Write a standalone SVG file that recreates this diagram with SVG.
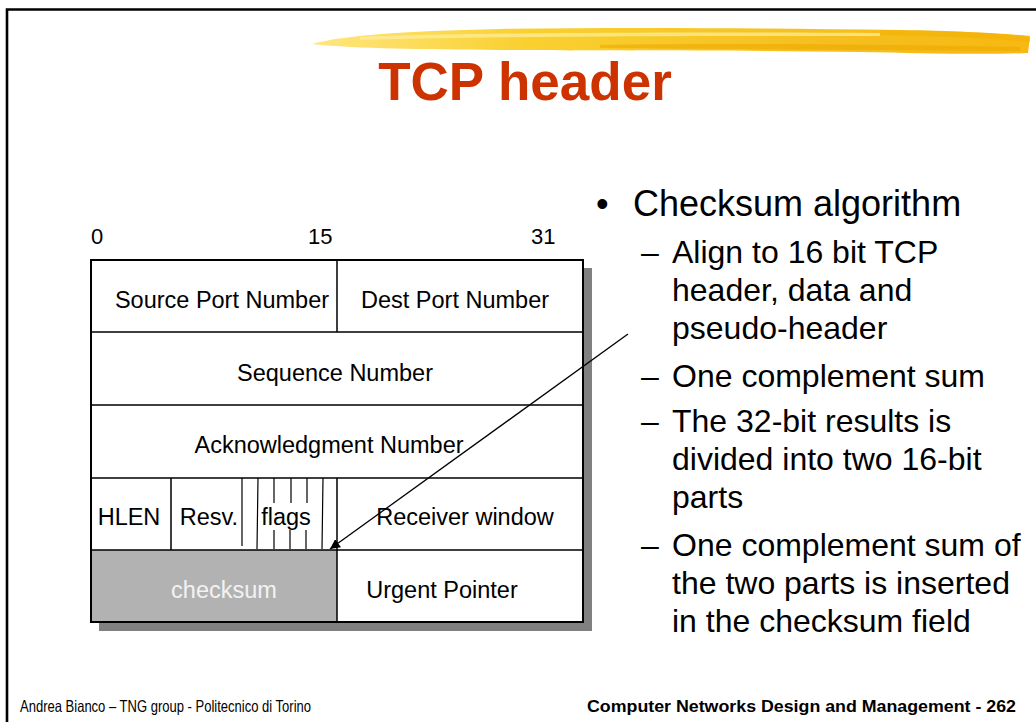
<svg xmlns="http://www.w3.org/2000/svg" width="1036" height="722" viewBox="0 0 1036 722">
<defs>
<style>
.t{font-family:"Liberation Sans",Arial,sans-serif;fill:#000}
.cell{font-size:23.5px;text-anchor:middle}
.bit{font-size:22px}
.b1{font-size:36px}
.b2{font-size:32px}
.ln{stroke:#000;stroke-width:1.5;fill:none}
.fl{stroke:#000;stroke-width:1.2;fill:none}
</style>
<linearGradient id="brush" x1="0" y1="0" x2="1" y2="0">
<stop offset="0" stop-color="#FFE680"/>
<stop offset="0.3" stop-color="#F9D030"/>
<stop offset="0.7" stop-color="#F5C020"/>
<stop offset="1" stop-color="#F7B812"/>
</linearGradient>
<marker id="ah" viewBox="0 0 10 10" refX="10" refY="5" markerWidth="10" markerHeight="10" markerUnits="userSpaceOnUse" orient="auto">
<path d="M0,0 L10,5 L0,10 z" fill="#000"/>
</marker>
</defs>
<rect x="0" y="0" width="1036" height="722" fill="#fff"/>
<g id="frame">
<path d="M7,722 V9.5 H1036" fill="none" stroke="#000" stroke-width="2.6"/>
</g>
<g id="brushstroke">
<path d="M312,44 C340,36 400,31 500,29 C620,27 760,28 900,30 C960,31 1000,33 1030,36 L1028,53 C980,55 920,53 860,52 C740,50 600,51 500,50 C420,49 360,49 312,44 z" fill="url(#brush)"/>
<path d="M360,37 C500,32 700,32 880,33 L880,36 C700,36 500,36 360,40 z" fill="#FFEFA0" opacity="0.7"/>
<path d="M600,45 C720,43 850,44 1020,47 L1020,51 C860,50 720,49 600,48 z" fill="#EFA800" opacity="0.6"/>
<path d="M880,30 C950,31 1000,33 1030,38 L1030,42 C990,38 940,36 880,35 z" fill="#F2B000" opacity="0.5"/>
</g>
<text id="title" x="525" y="100" text-anchor="middle" font-family="Liberation Sans,Arial,sans-serif" font-weight="bold" font-size="53" fill="#CC3300">TCP header</text>
<g id="bitlabels">
<text class="t bit" x="91" y="244">0</text>
<text class="t bit" x="308" y="244">15</text>
<text class="t bit" x="531" y="244">31</text>
</g>
<g id="table">
<rect x="99" y="268" width="493" height="363" fill="#808080"/>
<rect x="91" y="260" width="492" height="362" fill="#fff"/>
<g id="node-checksum">
<rect x="91" y="550" width="246" height="72" fill="#B2B2B2"/>
<text class="t cell" x="224" y="598" style="fill:#F2F2F2">checksum</text>
</g>
<rect x="91" y="260" width="492" height="362" fill="none" stroke="#000" stroke-width="2"/>
<path class="ln" d="M91,332 H583 M91,405 H583 M91,478 H583 M91,550 H583"/>
<path class="ln" d="M337,260 V332 M337,478 V622 M171,478 V550"/>
<path class="fl" d="M242,478 V546 M258,478 L257,549 M274,478 V503 M274,530 V549 M291,478 V503 M290,530 V549 M307,478 V503 M306,530 V549 M323,478 L322,549"/>
<g id="node-src"><text class="t cell" x="222" y="308">Source Port Number</text></g>
<g id="node-dst"><text class="t cell" x="455" y="308">Dest Port Number</text></g>
<g id="node-seq"><text class="t cell" x="335" y="381">Sequence Number</text></g>
<g id="node-ack"><text class="t cell" x="329" y="453">Acknowledgment Number</text></g>
<g id="node-hlen"><text class="t cell" x="129" y="525">HLEN</text></g>
<g id="node-resv"><text class="t cell" x="209" y="525">Resv.</text></g>
<g id="node-flags"><text class="t cell" x="286" y="525">flags</text></g>
<g id="node-rwin"><text class="t cell" x="465" y="525">Receiver window</text></g>
<g id="node-urg"><text class="t cell" x="442" y="598">Urgent Pointer</text></g>
</g>
<g id="connectors">
<line x1="628" y1="334" x2="330" y2="549" stroke="#000" stroke-width="1.3" marker-end="url(#ah)"/>
</g>
<g id="bullets">
<text class="t b1" x="596" y="216">•</text>
<text class="t b1" x="633" y="216">Checksum algorithm</text>
<text class="t b2" x="641" y="263">–</text>
<text class="t b2" x="672" y="263">Align to 16 bit TCP</text>
<text class="t b2" x="672" y="301">header, data and</text>
<text class="t b2" x="672" y="339">pseudo-header</text>
<text class="t b2" x="641" y="387">–</text>
<text class="t b2" x="672" y="387">One complement sum</text>
<text class="t b2" x="641" y="432">–</text>
<text class="t b2" x="672" y="432">The 32-bit results is</text>
<text class="t b2" x="672" y="470">divided into two 16-bit</text>
<text class="t b2" x="672" y="508">parts</text>
<text class="t b2" x="641" y="556">–</text>
<text class="t b2" x="672" y="556">One complement sum of</text>
<text class="t b2" x="672" y="594">the two parts is inserted</text>
<text class="t b2" x="672" y="632">in the checksum field</text>
</g>
<g id="footer">
<text class="t" x="20" y="712" font-size="16.5" textLength="291" lengthAdjust="spacingAndGlyphs">Andrea Bianco – TNG group - Politecnico di Torino</text>
<text class="t" x="587" y="712" font-size="16.5" font-weight="bold" textLength="429" lengthAdjust="spacingAndGlyphs">Computer Networks Design and Management - 262</text>
</g>
</svg>
